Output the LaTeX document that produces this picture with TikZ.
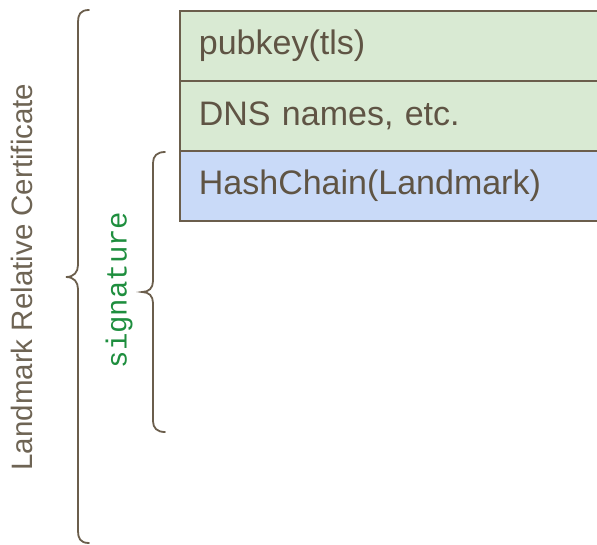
\documentclass[tikz,border=0pt]{standalone}
\usepackage{fontspec}
\setmainfont{Liberation Sans}
\setmonofont{Liberation Mono}
\definecolor{edge}{HTML}{6B5E4C}
\definecolor{ink}{HTML}{5F5444}
\definecolor{softink}{HTML}{6E6454}
\definecolor{leaf}{HTML}{D9EAD3}
\definecolor{sky}{HTML}{C9DAF8}
\definecolor{sig}{HTML}{1E8E3E}
\tikzset{
  x=1pt, y=-1pt,
  field/.style={draw=edge, line width=1.8pt, anchor=north west,
    minimum width=440pt, minimum height=70pt, inner xsep=19pt,
    text width=402pt, align=left, text=ink,
    font=\fontsize{34}{37}\selectfont},
  bracket/.style={draw=edge, line width=1.8pt, line cap=round}
}
\begin{document}
\begin{tikzpicture}
\useasboundingbox (0,0) rectangle (597,544);
\clip (0,0) rectangle (597,544);

% certificate fields
\node[field, fill=leaf] (pk) at (179,10) {pubkey(tls)};
\node[field, fill=leaf] (dns) at (179,80) {DNS names, etc.};
\node[field, fill=sky] (hc) at (179,150) {HashChain(Landmark)};

% outer brace: whole certificate
\coordinate (ot) at (89,10);
\coordinate (ob) at (89,543);
\coordinate (otip) at (66,277);
\path[bracket] (ot) .. controls (80,10) and (78,15) .. (78,22)
  -- (78,265) .. controls (78,272) and (74,277) .. (otip)
  .. controls (74,277) and (78,282) .. (78,289)
  -- (78,531) .. controls (78,538) and (80,543) .. (ob);

% inner brace: signature
\coordinate (it) at (165,152);
\coordinate (ib) at (165,432);
\coordinate (itip) at (142,292);
\path[bracket] (it) .. controls (157,152) and (153,156) .. (153,163)
  -- (153,281) .. controls (153,288) and (149,292) .. (itip)
  .. controls (149,292) and (153,296) .. (153,303)
  -- (153,421) .. controls (153,428) and (157,432) .. (ib);

% labels
\node[rotate=90, text=softink, font=\fontsize{29.5}{31}\selectfont] (lrc) at (22,277) {Landmark Relative Certificate};
\node[rotate=90, text=sig, font=\ttfamily\fontsize{29}{31}\selectfont] (sg) at (119,290) {signature};
\end{tikzpicture}
\end{document}
